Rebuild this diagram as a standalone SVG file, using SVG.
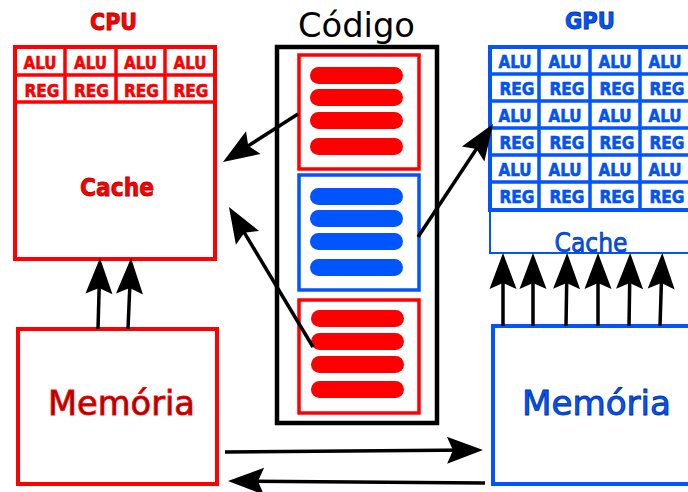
<svg xmlns="http://www.w3.org/2000/svg" width="688" height="492" viewBox="0 0 688 492">
<defs>
<style>
.cond{font-family:"DejaVu Sans",sans-serif;text-anchor:middle}
.b{font-weight:bold}
.cell{font-size:17.5px;font-weight:bold;stroke-width:0.6}
.cell.r{stroke:#e00000}
.cell.bl{stroke:#0048e0}
.r{fill:#ff0000}
.bl{fill:#0055ff}
.rs{fill:none;stroke:#ff0000}
.bs{fill:none;stroke:#0055ff}
.arr{fill:none;stroke:#000;stroke-width:3.5;marker-end:url(#ah)}
.pr{fill:#ff0000}
.pb{fill:#0055ff}
.big{font-family:"DejaVu Sans",sans-serif;text-anchor:middle}
</style>
<marker id="ah" markerUnits="userSpaceOnUse" markerWidth="60" markerHeight="60" orient="auto" refX="0" refY="0" overflow="visible">
<path d="M10,0 L-26,-13.5 L-20,0 L-26,13.5 Z" fill="#000"/>
</marker>
</defs>

<g id="cpu">
<text class="cond b r" x="113.5" y="29.5" font-size="23.5" stroke="#b00000" stroke-width="0.9" textLength="47" lengthAdjust="spacingAndGlyphs">CPU</text>
<rect class="rs" x="15" y="47" width="200" height="212" stroke-width="4"/>
<path class="rs" stroke-width="3.5" d="M15,75 H215 M15,102 H215 M65,47 V102 M116,47 V102 M165,47 V102"/>
<g class="cond cell r">
<text x="40" y="68.5" textLength="33" lengthAdjust="spacingAndGlyphs">ALU</text><text x="90.5" y="68.5" textLength="33" lengthAdjust="spacingAndGlyphs">ALU</text><text x="140.5" y="68.5" textLength="33" lengthAdjust="spacingAndGlyphs">ALU</text><text x="190" y="68.5" textLength="33" lengthAdjust="spacingAndGlyphs">ALU</text>
<text x="42" y="96.5" textLength="35" lengthAdjust="spacingAndGlyphs">REG</text><text x="91.5" y="96.5" textLength="35" lengthAdjust="spacingAndGlyphs">REG</text><text x="141.5" y="96.5" textLength="35" lengthAdjust="spacingAndGlyphs">REG</text><text x="191" y="96.5" textLength="35" lengthAdjust="spacingAndGlyphs">REG</text>
</g>
<text class="cond b r" x="117" y="196" font-size="25" stroke="#b00000" stroke-width="0.8" textLength="74" lengthAdjust="spacingAndGlyphs">Cache</text>
</g>

<g id="cpu-mem">
<rect class="rs" x="18" y="329" width="199" height="155" stroke-width="4"/>
<text class="big" x="121.5" y="415" font-size="34" fill="#a00000" stroke="#ff0000" stroke-width="0.9" textLength="147" lengthAdjust="spacingAndGlyphs">Memória</text>
</g>

<g id="codigo">
<text class="big" x="356.5" y="37" font-size="34" fill="#000" textLength="117" lengthAdjust="spacingAndGlyphs">Código</text>
<rect x="277" y="47" width="160" height="376" fill="none" stroke="#000" stroke-width="4.5"/>
</g>

<g id="code-cpu-1">
<rect class="rs" x="299" y="55" width="120" height="114" stroke-width="3.5"/>
<rect class="pr" x="310" y="67" width="93" height="17" rx="8.5"/>
<rect class="pr" x="310" y="89" width="93" height="17" rx="8.5"/>
<rect class="pr" x="310" y="112" width="93" height="17" rx="8.5"/>
<rect class="pr" x="310" y="138" width="93" height="17" rx="8.5"/>
</g>

<g id="code-gpu">
<rect class="bs" x="299" y="175" width="120" height="115" stroke-width="3.5"/>
<rect class="pb" x="310" y="188" width="93" height="17" rx="8.5"/>
<rect class="pb" x="310" y="210" width="93" height="17" rx="8.5"/>
<rect class="pb" x="310" y="233" width="93" height="17" rx="8.5"/>
<rect class="pb" x="310" y="259" width="93" height="17" rx="8.5"/>
</g>

<g id="code-cpu-2">
<rect class="rs" x="299" y="300" width="120" height="113" stroke-width="3.5"/>
<rect class="pr" x="311" y="310" width="93" height="17" rx="8.5"/>
<rect class="pr" x="311" y="333" width="93" height="17" rx="8.5"/>
<rect class="pr" x="311" y="356" width="93" height="17" rx="8.5"/>
<rect class="pr" x="311" y="381" width="93" height="17" rx="8.5"/>
</g>

<g id="gpu">
<text class="cond b bl" x="590" y="28.5" font-size="23.5" stroke="#0030a0" stroke-width="0.9" textLength="50" lengthAdjust="spacingAndGlyphs">GPU</text>
<rect class="bs" x="490" y="47" width="220" height="206" stroke-width="2"/>
<rect class="bs" x="490" y="47" width="220" height="163" stroke-width="4"/>
<path class="bs" stroke-width="3.5" d="M490,74 H700 M490,101 H700 M490,128 H700 M490,155 H700 M490,182 H700 M539,47 V210 M590,47 V210 M640,47 V210"/>
<g class="cond cell bl">
<text x="515" y="67.5" textLength="33" lengthAdjust="spacingAndGlyphs">ALU</text><text x="565" y="67.5" textLength="33" lengthAdjust="spacingAndGlyphs">ALU</text><text x="615" y="67.5" textLength="33" lengthAdjust="spacingAndGlyphs">ALU</text><text x="665" y="67.5" textLength="33" lengthAdjust="spacingAndGlyphs">ALU</text>
<text x="517" y="94.5" textLength="35" lengthAdjust="spacingAndGlyphs">REG</text><text x="567" y="94.5" textLength="35" lengthAdjust="spacingAndGlyphs">REG</text><text x="617" y="94.5" textLength="35" lengthAdjust="spacingAndGlyphs">REG</text><text x="667" y="94.5" textLength="35" lengthAdjust="spacingAndGlyphs">REG</text>
<text x="515" y="121.5" textLength="33" lengthAdjust="spacingAndGlyphs">ALU</text><text x="565" y="121.5" textLength="33" lengthAdjust="spacingAndGlyphs">ALU</text><text x="615" y="121.5" textLength="33" lengthAdjust="spacingAndGlyphs">ALU</text><text x="665" y="121.5" textLength="33" lengthAdjust="spacingAndGlyphs">ALU</text>
<text x="517" y="148.5" textLength="35" lengthAdjust="spacingAndGlyphs">REG</text><text x="567" y="148.5" textLength="35" lengthAdjust="spacingAndGlyphs">REG</text><text x="617" y="148.5" textLength="35" lengthAdjust="spacingAndGlyphs">REG</text><text x="667" y="148.5" textLength="35" lengthAdjust="spacingAndGlyphs">REG</text>
<text x="515" y="175.5" textLength="33" lengthAdjust="spacingAndGlyphs">ALU</text><text x="565" y="175.5" textLength="33" lengthAdjust="spacingAndGlyphs">ALU</text><text x="615" y="175.5" textLength="33" lengthAdjust="spacingAndGlyphs">ALU</text><text x="665" y="175.5" textLength="33" lengthAdjust="spacingAndGlyphs">ALU</text>
<text x="517" y="202.5" textLength="35" lengthAdjust="spacingAndGlyphs">REG</text><text x="567" y="202.5" textLength="35" lengthAdjust="spacingAndGlyphs">REG</text><text x="617" y="202.5" textLength="35" lengthAdjust="spacingAndGlyphs">REG</text><text x="667" y="202.5" textLength="35" lengthAdjust="spacingAndGlyphs">REG</text>
</g>
<text class="cond bl" x="591" y="251.5" font-size="26.5" stroke="#0030a0" stroke-width="0.7" textLength="73" lengthAdjust="spacingAndGlyphs">Cache</text>
</g>

<g id="gpu-mem">
<rect class="bs" x="493" y="326" width="220" height="158" stroke-width="4"/>
<text class="big" x="596.5" y="415" font-size="34" fill="#0055ff" stroke="#0030a0" stroke-width="0.9" textLength="149" lengthAdjust="spacingAndGlyphs">Memória</text>
</g>

<g id="connectors">
<path class="arr" d="M98,329 L99.7,268"/>
<path class="arr" d="M128,329 L130.6,268"/>
<path class="arr" d="M503,326 L503,263"/>
<path class="arr" d="M533,326 L533,263"/>
<path class="arr" d="M566,326 L567,263"/>
<path class="arr" d="M598,326 L598,263"/>
<path class="arr" d="M629,326 L630,263"/>
<path class="arr" d="M660,326 L662,263"/>
<path class="arr" d="M225,452 L473,450"/>
<path class="arr" d="M485,483 L238,481"/>
<path class="arr" d="M298,114 L231.4,156.6"/>
<path class="arr" d="M313,347 L234.1,215.6"/>
<path class="arr" d="M418,237 L487.5,132.3"/>
</g>
</svg>
